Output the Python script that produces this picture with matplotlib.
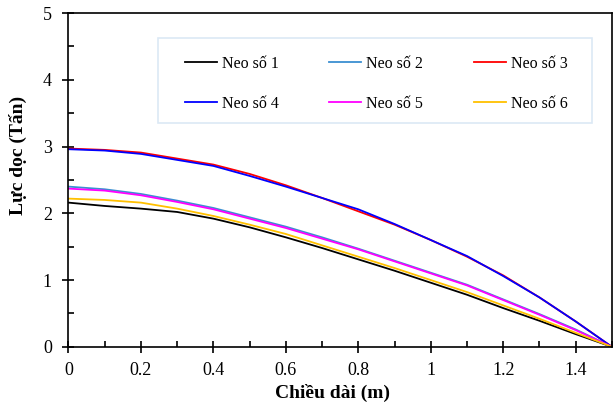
import numpy as np
import matplotlib
matplotlib.use("Agg")
import matplotlib.pyplot as plt
from matplotlib.patches import Rectangle
from matplotlib.ticker import MultipleLocator, FormatStrFormatter

# Chiều dài neo (m)
x = [0, 0.1, 0.2, 0.3, 0.4, 0.5, 0.6, 0.7, 0.8, 0.9, 1.0, 1.1, 1.2, 1.3, 1.4, 1.5]

# Lực dọc (Tấn) cho từng neo
neo1 = [2.16, 2.11, 2.07, 2.02, 1.92, 1.79, 1.64, 1.48, 1.31, 1.14, 0.96, 0.78, 0.58, 0.39, 0.19, 0.0]
neo2 = [2.40, 2.36, 2.29, 2.19, 2.08, 1.94, 1.80, 1.64, 1.47, 1.29, 1.11, 0.93, 0.71, 0.49, 0.26, 0.0]
neo3 = [2.97, 2.95, 2.91, 2.82, 2.73, 2.59, 2.42, 2.23, 2.03, 1.83, 1.60, 1.35, 1.07, 0.74, 0.38, 0.0]
neo4 = [2.96, 2.94, 2.89, 2.80, 2.71, 2.56, 2.40, 2.23, 2.06, 1.84, 1.60, 1.36, 1.06, 0.74, 0.38, 0.0]
neo5 = [2.37, 2.34, 2.27, 2.17, 2.06, 1.92, 1.78, 1.62, 1.46, 1.28, 1.10, 0.92, 0.70, 0.48, 0.25, 0.0]
neo6 = [2.22, 2.20, 2.16, 2.07, 1.96, 1.83, 1.69, 1.52, 1.35, 1.18, 1.00, 0.82, 0.62, 0.42, 0.21, 0.0]

series = [neo1, neo2, neo3, neo4, neo5, neo6]
labels = ["Neo số 1", "Neo số 2", "Neo số 3", "Neo số 4", "Neo số 5", "Neo số 6"]
colors = ["#000000", "#3b8fd1", "#ff0000", "#0000ff", "#ff00ff", "#ffc000"]

plt.rcParams["font.family"] = ["Liberation Serif", "DejaVu Serif"]

fig = plt.figure(figsize=(6.13, 4.08), dpi=100)
ax = fig.add_axes([0.1117, 0.150, 0.8865, 0.818])

lines = []
for y, lab, c in zip(series, labels, colors):
    ln, = ax.plot(x, y, color=c, lw=1.3, label=lab)
    lines.append(ln)

ax.set_xlim(0, 1.5)
ax.set_ylim(0, 5)
ax.xaxis.set_major_locator(MultipleLocator(0.2))
ax.xaxis.set_minor_locator(MultipleLocator(0.1))
ax.yaxis.set_major_locator(MultipleLocator(1))
ax.yaxis.set_minor_locator(MultipleLocator(0.5))
ax.xaxis.set_major_formatter(FormatStrFormatter("%g"))
ax.yaxis.set_major_formatter(FormatStrFormatter("%g"))

ax.tick_params(which="major", direction="inout", length=8, width=1.2,
               labelsize=13, top=False, right=False)
ax.tick_params(axis="x", which="major", pad=7)
ax.tick_params(axis="y", which="major", pad=8)
ax.tick_params(which="minor", direction="in", length=4, width=1.2,
               top=False, right=False)
for s in ax.spines.values():
    s.set_linewidth(1.2)

ax.set_xlabel("Chiều dài (m)", fontsize=14, fontweight="bold")
ax.xaxis.set_label_coords(0.485, -0.112)
ax.set_ylabel("Lực dọc (Tấn)", fontsize=14, fontweight="bold")
ax.yaxis.set_label_coords(-0.076, 0.574)

# legend frame drawn separately, entries filled row by row
ax.add_patch(Rectangle((0.165, 0.670), 0.798, 0.255, transform=ax.transAxes,
                       facecolor="white", edgecolor="#dce9f5", lw=1.2, zorder=4))
order = [0, 3, 1, 4, 2, 5]
leg = ax.legend([lines[i] for i in order], [labels[i] for i in order],
                loc="upper left", bbox_to_anchor=(0.214, 0.872),
                ncol=3, fontsize=11.5, frameon=False, borderaxespad=0,
                borderpad=0, handlelength=2.0, handletextpad=0.3,
                labelspacing=1.5, columnspacing=3.2)
leg.set_zorder(5)

fig.savefig("out.png", dpi=100)
